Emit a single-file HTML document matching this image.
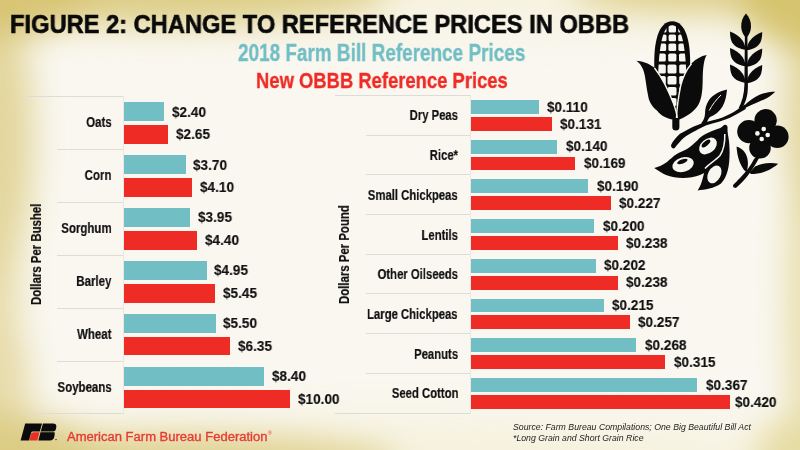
<!DOCTYPE html>
<html><head><meta charset="utf-8"><style>
html,body{margin:0;padding:0;overflow:hidden}
#wrap{position:relative;width:800px;height:450px;overflow:hidden}
body{width:800px;height:450px;position:relative;overflow:hidden;background:#F9F7F1;font-family:"Liberation Sans",sans-serif}
.bgsvg{position:absolute;left:-50px;top:-50px}
.t{position:absolute;white-space:nowrap;transform-origin:0 0;line-height:1;will-change:transform}
.bar{position:absolute}
.hl{position:absolute;height:1px;background:#DEDCD7}
.vl{position:absolute;width:1px;background:#EAE7E2}
svg{position:absolute;left:0;top:0}
</style></head><body><div id="wrap">
<svg class="bgsvg" width="900" height="550" viewBox="-50 -50 900 550">
<defs><filter id="blr" filterUnits="userSpaceOnUse" x="-50" y="-50" width="900" height="550"><feGaussianBlur stdDeviation="16"/></filter>
<filter id="blr2" filterUnits="userSpaceOnUse" x="-50" y="-50" width="900" height="550"><feGaussianBlur stdDeviation="30"/></filter></defs>
<rect x="-50" y="-50" width="900" height="550" fill="#F9F7F0"/>
<g filter="url(#blr2)">
<ellipse cx="400" cy="-20" rx="450" ry="40" fill="#F6F1DA"/>
<ellipse cx="400" cy="470" rx="450" ry="40" fill="#F5F0D8"/>
</g>
<g filter="url(#blr)">
<ellipse cx="-12" cy="290" rx="32" ry="130" fill="#E9DFB0"/>
<ellipse cx="-10" cy="390" rx="40" ry="90" fill="#E7DCAA"/>
<ellipse cx="-12" cy="140" rx="46" ry="150" fill="#E3D79E"/>
<ellipse cx="812" cy="300" rx="26" ry="200" fill="#E8DFAE"/>
<ellipse cx="812" cy="110" rx="28" ry="120" fill="#E2D69C"/>
<ellipse cx="160" cy="-10" rx="230" ry="34" fill="#DDCD86"/>
<ellipse cx="170" cy="462" rx="230" ry="28" fill="#E0D292"/>
<ellipse cx="710" cy="-10" rx="140" ry="24" fill="#DFD08C"/>
<ellipse cx="805" cy="455" rx="50" ry="40" fill="#E6DCA4"/>
<ellipse cx="-10" cy="-10" rx="110" ry="48" fill="#D8C574"/>
<ellipse cx="-10" cy="462" rx="120" ry="48" fill="#DCCC84"/>
<ellipse cx="810" cy="-10" rx="75" ry="60" fill="#D6C46E"/>
</g>
</svg>

<div class="hl" style="left:26px;top:96.00px;width:98.20px"></div>
<div class="hl" style="left:26px;top:413.40px;width:98.20px"></div>
<div class="hl" style="left:57px;top:148.90px;width:67.20px"></div>
<div class="hl" style="left:57px;top:201.80px;width:67.20px"></div>
<div class="hl" style="left:57px;top:254.70px;width:67.20px"></div>
<div class="hl" style="left:57px;top:307.60px;width:67.20px"></div>
<div class="hl" style="left:57px;top:360.50px;width:67.20px"></div>
<div class="vl" style="left:123.20px;top:96.00px;height:317.40px"></div>
<div class="bar" style="left:124.20px;top:102.40px;width:39.91px;height:18.8px;background:#72BEC5"></div>
<div class="bar" style="left:124.20px;top:125.10px;width:44.07px;height:18.8px;background:#EE2C25"></div>
<div class="bar" style="left:124.20px;top:155.30px;width:61.53px;height:18.8px;background:#72BEC5"></div>
<div class="bar" style="left:124.20px;top:178.00px;width:68.18px;height:18.8px;background:#EE2C25"></div>
<div class="bar" style="left:124.20px;top:208.20px;width:65.69px;height:18.8px;background:#72BEC5"></div>
<div class="bar" style="left:124.20px;top:230.90px;width:73.17px;height:18.8px;background:#EE2C25"></div>
<div class="bar" style="left:124.20px;top:261.10px;width:82.32px;height:18.8px;background:#72BEC5"></div>
<div class="bar" style="left:124.20px;top:283.80px;width:90.63px;height:18.8px;background:#EE2C25"></div>
<div class="bar" style="left:124.20px;top:314.00px;width:91.46px;height:18.8px;background:#72BEC5"></div>
<div class="bar" style="left:124.20px;top:336.70px;width:105.60px;height:18.8px;background:#EE2C25"></div>
<div class="bar" style="left:124.20px;top:366.90px;width:139.69px;height:18.8px;background:#72BEC5"></div>
<div class="bar" style="left:124.20px;top:389.60px;width:166.30px;height:18.8px;background:#EE2C25"></div>
<div class="hl" style="left:335px;top:94.90px;width:136.20px"></div>
<div class="hl" style="left:335px;top:412.60px;width:136.20px"></div>
<div class="hl" style="left:366px;top:134.61px;width:105.20px"></div>
<div class="hl" style="left:366px;top:174.33px;width:105.20px"></div>
<div class="hl" style="left:366px;top:214.04px;width:105.20px"></div>
<div class="hl" style="left:366px;top:253.75px;width:105.20px"></div>
<div class="hl" style="left:366px;top:293.46px;width:105.20px"></div>
<div class="hl" style="left:366px;top:333.18px;width:105.20px"></div>
<div class="hl" style="left:366px;top:372.89px;width:105.20px"></div>
<div class="vl" style="left:470.20px;top:94.90px;height:317.70px"></div>
<div class="bar" style="left:471.20px;top:100.00px;width:67.77px;height:13.8px;background:#72BEC5"></div>
<div class="bar" style="left:471.20px;top:116.80px;width:80.71px;height:13.9px;background:#EE2C25"></div>
<div class="bar" style="left:471.20px;top:139.71px;width:86.25px;height:13.8px;background:#72BEC5"></div>
<div class="bar" style="left:471.20px;top:156.51px;width:104.12px;height:13.9px;background:#EE2C25"></div>
<div class="bar" style="left:471.20px;top:179.43px;width:117.06px;height:13.8px;background:#72BEC5"></div>
<div class="bar" style="left:471.20px;top:196.23px;width:139.85px;height:13.9px;background:#EE2C25"></div>
<div class="bar" style="left:471.20px;top:219.14px;width:123.22px;height:13.8px;background:#72BEC5"></div>
<div class="bar" style="left:471.20px;top:235.94px;width:146.63px;height:13.9px;background:#EE2C25"></div>
<div class="bar" style="left:471.20px;top:258.85px;width:124.45px;height:13.8px;background:#72BEC5"></div>
<div class="bar" style="left:471.20px;top:275.65px;width:146.63px;height:13.9px;background:#EE2C25"></div>
<div class="bar" style="left:471.20px;top:298.56px;width:132.46px;height:13.8px;background:#72BEC5"></div>
<div class="bar" style="left:471.20px;top:315.36px;width:158.34px;height:13.9px;background:#EE2C25"></div>
<div class="bar" style="left:471.20px;top:338.28px;width:165.11px;height:13.8px;background:#72BEC5"></div>
<div class="bar" style="left:471.20px;top:355.08px;width:194.07px;height:13.9px;background:#EE2C25"></div>
<div class="bar" style="left:471.20px;top:377.99px;width:226.11px;height:13.8px;background:#72BEC5"></div>
<div class="bar" style="left:471.20px;top:394.79px;width:258.76px;height:13.9px;background:#EE2C25"></div>
<div class="t" style="left:9.64px;top:12.15px;font-size:25px;transform:scaleX(0.947);font-weight:bold;-webkit-text-stroke:0.6px #0a0a0a;color:#0a0a0a;">FIGURE 2: CHANGE TO REFERENCE PRICES IN OBBB</div>
<div class="t" style="left:238.33px;top:40.63px;font-size:23.8px;transform:scaleX(0.7955);font-weight:bold;-webkit-text-stroke:0.35px #72BEC5;color:#72BEC5;">2018 Farm Bill Reference Prices</div>
<div class="t" style="left:255.71px;top:69.51px;font-size:22.6px;transform:scaleX(0.815);font-weight:bold;-webkit-text-stroke:0.35px #EE2C25;color:#EE2C25;">New OBBB Reference Prices</div>
<div class="t" style="left:171.84px;top:103.68px;font-size:15.5px;transform:scaleX(0.876);font-weight:bold;-webkit-text-stroke:0.15px #111;color:#111;">$2.40</div>
<div class="t" style="left:176.00px;top:126.08px;font-size:15.5px;transform:scaleX(0.876);font-weight:bold;-webkit-text-stroke:0.15px #111;color:#111;">$2.65</div>
<div class="t" style="right:688.35px;top:114.37px;font-size:15.2px;transform:scaleX(0.757);transform-origin:100% 0;font-weight:bold;-webkit-text-stroke:0.2px #111;color:#111;">Oats</div>
<div class="t" style="left:193.46px;top:156.58px;font-size:15.5px;transform:scaleX(0.876);font-weight:bold;-webkit-text-stroke:0.15px #111;color:#111;">$3.70</div>
<div class="t" style="left:200.11px;top:178.98px;font-size:15.5px;transform:scaleX(0.876);font-weight:bold;-webkit-text-stroke:0.15px #111;color:#111;">$4.10</div>
<div class="t" style="right:688.35px;top:167.27px;font-size:15.2px;transform:scaleX(0.757);transform-origin:100% 0;font-weight:bold;-webkit-text-stroke:0.2px #111;color:#111;">Corn</div>
<div class="t" style="left:197.62px;top:209.48px;font-size:15.5px;transform:scaleX(0.876);font-weight:bold;-webkit-text-stroke:0.15px #111;color:#111;">$3.95</div>
<div class="t" style="left:205.10px;top:231.88px;font-size:15.5px;transform:scaleX(0.876);font-weight:bold;-webkit-text-stroke:0.15px #111;color:#111;">$4.40</div>
<div class="t" style="right:688.35px;top:220.17px;font-size:15.2px;transform:scaleX(0.757);transform-origin:100% 0;font-weight:bold;-webkit-text-stroke:0.2px #111;color:#111;">Sorghum</div>
<div class="t" style="left:214.25px;top:262.37px;font-size:15.5px;transform:scaleX(0.876);font-weight:bold;-webkit-text-stroke:0.15px #111;color:#111;">$4.95</div>
<div class="t" style="left:222.56px;top:284.77px;font-size:15.5px;transform:scaleX(0.876);font-weight:bold;-webkit-text-stroke:0.15px #111;color:#111;">$5.45</div>
<div class="t" style="right:688.35px;top:273.07px;font-size:15.2px;transform:scaleX(0.757);transform-origin:100% 0;font-weight:bold;-webkit-text-stroke:0.2px #111;color:#111;">Barley</div>
<div class="t" style="left:223.39px;top:315.27px;font-size:15.5px;transform:scaleX(0.876);font-weight:bold;-webkit-text-stroke:0.15px #111;color:#111;">$5.50</div>
<div class="t" style="left:237.53px;top:337.68px;font-size:15.5px;transform:scaleX(0.876);font-weight:bold;-webkit-text-stroke:0.15px #111;color:#111;">$6.35</div>
<div class="t" style="right:688.35px;top:325.97px;font-size:15.2px;transform:scaleX(0.757);transform-origin:100% 0;font-weight:bold;-webkit-text-stroke:0.2px #111;color:#111;">Wheat</div>
<div class="t" style="left:271.62px;top:368.17px;font-size:15.5px;transform:scaleX(0.876);font-weight:bold;-webkit-text-stroke:0.15px #111;color:#111;">$8.40</div>
<div class="t" style="left:298.23px;top:390.57px;font-size:15.5px;transform:scaleX(0.876);font-weight:bold;-webkit-text-stroke:0.15px #111;color:#111;">$10.00</div>
<div class="t" style="right:688.35px;top:378.87px;font-size:15.2px;transform:scaleX(0.757);transform-origin:100% 0;font-weight:bold;-webkit-text-stroke:0.2px #111;color:#111;">Soybeans</div>
<div class="t" style="left:547.30px;top:98.58px;font-size:15.5px;transform:scaleX(0.876);font-weight:bold;-webkit-text-stroke:0.15px #111;color:#111;">$0.110</div>
<div class="t" style="left:560.24px;top:115.53px;font-size:15.5px;transform:scaleX(0.876);font-weight:bold;-webkit-text-stroke:0.15px #111;color:#111;">$0.131</div>
<div class="t" style="right:342.06px;top:107.38px;font-size:15.2px;transform:scaleX(0.745);transform-origin:100% 0;font-weight:bold;-webkit-text-stroke:0.2px #111;color:#111;">Dry Peas</div>
<div class="t" style="left:565.78px;top:138.29px;font-size:15.5px;transform:scaleX(0.876);font-weight:bold;-webkit-text-stroke:0.15px #111;color:#111;">$0.140</div>
<div class="t" style="left:583.65px;top:155.24px;font-size:15.5px;transform:scaleX(0.876);font-weight:bold;-webkit-text-stroke:0.15px #111;color:#111;">$0.169</div>
<div class="t" style="right:342.06px;top:147.09px;font-size:15.2px;transform:scaleX(0.745);transform-origin:100% 0;font-weight:bold;-webkit-text-stroke:0.2px #111;color:#111;">Rice*</div>
<div class="t" style="left:596.59px;top:178.00px;font-size:15.5px;transform:scaleX(0.876);font-weight:bold;-webkit-text-stroke:0.15px #111;color:#111;">$0.190</div>
<div class="t" style="left:619.38px;top:194.95px;font-size:15.5px;transform:scaleX(0.876);font-weight:bold;-webkit-text-stroke:0.15px #111;color:#111;">$0.227</div>
<div class="t" style="right:342.06px;top:186.80px;font-size:15.2px;transform:scaleX(0.745);transform-origin:100% 0;font-weight:bold;-webkit-text-stroke:0.2px #111;color:#111;">Small Chickpeas</div>
<div class="t" style="left:602.75px;top:217.71px;font-size:15.5px;transform:scaleX(0.876);font-weight:bold;-webkit-text-stroke:0.15px #111;color:#111;">$0.200</div>
<div class="t" style="left:626.16px;top:234.66px;font-size:15.5px;transform:scaleX(0.876);font-weight:bold;-webkit-text-stroke:0.15px #111;color:#111;">$0.238</div>
<div class="t" style="right:342.06px;top:226.51px;font-size:15.2px;transform:scaleX(0.745);transform-origin:100% 0;font-weight:bold;-webkit-text-stroke:0.2px #111;color:#111;">Lentils</div>
<div class="t" style="left:603.98px;top:257.43px;font-size:15.5px;transform:scaleX(0.876);font-weight:bold;-webkit-text-stroke:0.15px #111;color:#111;">$0.202</div>
<div class="t" style="left:626.16px;top:274.38px;font-size:15.5px;transform:scaleX(0.876);font-weight:bold;-webkit-text-stroke:0.15px #111;color:#111;">$0.238</div>
<div class="t" style="right:342.06px;top:266.23px;font-size:15.2px;transform:scaleX(0.745);transform-origin:100% 0;font-weight:bold;-webkit-text-stroke:0.2px #111;color:#111;">Other Oilseeds</div>
<div class="t" style="left:611.99px;top:297.14px;font-size:15.5px;transform:scaleX(0.876);font-weight:bold;-webkit-text-stroke:0.15px #111;color:#111;">$0.215</div>
<div class="t" style="left:637.87px;top:314.09px;font-size:15.5px;transform:scaleX(0.876);font-weight:bold;-webkit-text-stroke:0.15px #111;color:#111;">$0.257</div>
<div class="t" style="right:342.06px;top:305.94px;font-size:15.2px;transform:scaleX(0.745);transform-origin:100% 0;font-weight:bold;-webkit-text-stroke:0.2px #111;color:#111;">Large Chickpeas</div>
<div class="t" style="left:644.64px;top:336.85px;font-size:15.5px;transform:scaleX(0.876);font-weight:bold;-webkit-text-stroke:0.15px #111;color:#111;">$0.268</div>
<div class="t" style="left:673.60px;top:353.80px;font-size:15.5px;transform:scaleX(0.876);font-weight:bold;-webkit-text-stroke:0.15px #111;color:#111;">$0.315</div>
<div class="t" style="right:342.06px;top:345.65px;font-size:15.2px;transform:scaleX(0.745);transform-origin:100% 0;font-weight:bold;-webkit-text-stroke:0.2px #111;color:#111;">Peanuts</div>
<div class="t" style="left:705.64px;top:376.56px;font-size:15.5px;transform:scaleX(0.876);font-weight:bold;-webkit-text-stroke:0.15px #111;color:#111;">$0.367</div>
<div class="t" style="left:734.93px;top:393.51px;font-size:15.5px;transform:scaleX(0.876);font-weight:bold;-webkit-text-stroke:0.15px #111;color:#111;">$0.420</div>
<div class="t" style="right:342.06px;top:385.36px;font-size:15.2px;transform:scaleX(0.745);transform-origin:100% 0;font-weight:bold;-webkit-text-stroke:0.2px #111;color:#111;">Seed Cotton</div>
<div class="t" style="left:28.97px;top:305.00px;font-size:14.8px;transform-origin:0 0;transform:rotate(-90deg) scaleX(0.77);font-weight:bold;-webkit-text-stroke:0.2px #111;color:#111">Dollars Per Bushel</div>
<div class="t" style="left:337.07px;top:303.50px;font-size:14.8px;transform-origin:0 0;transform:rotate(-90deg) scaleX(0.77);font-weight:bold;-webkit-text-stroke:0.2px #111;color:#111">Dollars Per Pound</div>
<div class="t" style="left:67.20px;top:430.60px;font-size:12px;transform:scaleX(1.085);font-weight:normal;-webkit-text-stroke:0.35px #E63C35;color:#E63C35;">American Farm Bureau Federation<span style='font-size:5px;vertical-align:6px;margin-left:0.3px;-webkit-text-stroke:0;font-weight:normal'>®</span></div>
<div class="t" style="left:512.54px;top:423.01px;font-size:8.6px;transform:scaleX(1.016);font-style:italic;color:#1c1c1c;">Source: Farm Bureau Compilations; One Big Beautiful Bill Act</div>
<div class="t" style="left:513.28px;top:433.61px;font-size:8.6px;transform:scaleX(1.016);font-style:italic;color:#1c1c1c;">*Long Grain and Short Grain Rice</div>
<svg width="800" height="450" viewBox="0 0 800 450">
<defs>
<clipPath id="cobin"><path d="M658 120 C656.5 50 661.5 25.2 672.2 25.2 C683 25.2 688 50 686.5 120 Z"/></clipPath>
</defs>
<g fill="#0b0b0b">
<!-- corn cob -->
<path d="M654.4 70 C653.2 42 658.5 21.3 672.2 21.3 C685.9 21.3 691.2 42 690 70 L676.7 118 Z"/>
</g>
<g fill="#F8F6F0" clip-path="url(#cobin)">
<rect x="655" y="22" width="11.5" height="10.5" rx="1.6"/>
<rect x="668.6" y="22" width="7.4" height="10.5" rx="1.6"/>
<rect x="678.2" y="22" width="11.5" height="10.5" rx="1.6"/>
<rect x="655" y="34.5" width="11.5" height="6.8" rx="1.6"/>
<rect x="668.6" y="34.5" width="7.4" height="6.8" rx="1.6"/>
<rect x="678.2" y="34.5" width="11.5" height="6.8" rx="1.6"/>
<rect x="655" y="43.5" width="11.2" height="7.6" rx="1.6"/>
<rect x="668.4" y="43.5" width="7.8" height="7.6" rx="1.6"/>
<rect x="678.4" y="43.5" width="11.5" height="7.6" rx="1.6"/>
<rect x="655" y="53.6" width="10.8" height="8" rx="1.6"/>
<rect x="668.2" y="53.6" width="8.2" height="8" rx="1.6"/>
<rect x="679" y="53.6" width="11" height="8" rx="1.6"/>
<rect x="655" y="64.5" width="10.8" height="9" rx="1.6"/>
<rect x="667.5" y="64.5" width="9" height="9" rx="1.6"/>
<rect x="679.2" y="64.5" width="11" height="9" rx="1.6"/>
<rect x="655" y="76" width="10.8" height="8.5" rx="1.6"/>
<rect x="667.5" y="76" width="9" height="8.5" rx="1.6"/>
<rect x="679.2" y="76" width="11" height="8.5" rx="1.6"/>
<rect x="655" y="87" width="10.8" height="8.5" rx="1.6"/>
<rect x="667.5" y="87" width="9" height="8.5" rx="1.6"/>
<rect x="679.2" y="87" width="11" height="8.5" rx="1.6"/>
<rect x="667.5" y="98" width="9" height="8" rx="1.6"/>
</g>
<g fill="#0b0b0b">
<!-- left corn leaf -->
<path d="M636.4 60.7 C641 61 648 62.5 654.2 67.6 C660 75 668 90 673 103 C675 109 676.5 114 677 118 L672 119.5 C664 117.5 659.5 114 657.5 111 C651.5 106.5 648.8 101 648 95 C646 85 645.5 76 643.3 70 C641.5 65.5 639.5 62.8 636.4 60.7 Z"/>
<!-- right corn leaf -->
<path d="M706.7 55 C703.5 60 702.8 70 702.7 80 C702.5 90 702 98 698.5 104.5 C695 110.5 689 115.5 679.4 119.5 L676 118 C676.5 110 677.5 100 680.6 85.6 C683 77 686 70 691.7 63.3 C696 59 701 56 706.7 55 Z"/>
<!-- corn stem -->
<path d="M672.3 114 L679.4 114 L679.4 127 Q679.4 130.6 675.85 130.6 Q672.3 130.6 672.3 127 Z"/>
</g>
<g fill="none" stroke="#F8F6F0" stroke-width="1.4">
<path d="M654.5 68 C660.5 75.5 668.5 90.5 673.5 103.5 C675.5 109 676.8 114 677.2 118"/>
<path d="M691.5 63.8 C686 70 683 77 680.6 86 C677.8 100 676.8 110 676.5 118"/>
</g>
<g fill="#0b0b0b">
<!-- wheat top grain -->
<path d="M746 13.5 C749.5 17 751.2 22 751 27 C750.8 32 748.5 35.5 746.2 38 C743.8 35.5 741.4 32 741.2 27 C741 22 742.5 17 746 13.5 Z"/>
<!-- wheat stem -->
<path d="M744.95 30 L747.35 30 L747.9 85 C748 95 746 101.5 742.5 107.5 L738.5 108.5 C742 102 744.2 94 744.4 85 Z"/>
<!-- left grains -->
<path d="M730 31.5 C734.5 33.0 739.5 36.5 742.5 40.5 C744 43.0 744.8 45.0 745.5 48.0 L745.8 49.7 C740 49.3 734.5 46.7 732 42.3 C730.5 39.3 730 35.5 730 31.5 Z"/>
<path d="M730 48.0 C734.5 49.5 739.5 53.0 742.5 57.0 C744 59.5 744.8 61.5 745.5 64.5 L745.8 66.2 C740 65.8 734.5 63.2 732 58.8 C730.5 55.8 730 52.0 730 48.0 Z"/>
<path d="M730 64.5 C734.5 66.0 739.5 69.5 742.5 73.5 C744 76.0 744.8 78.0 745.5 81.0 L745.8 82.7 C740 82.3 734.5 79.7 732 75.3 C730.5 72.3 730 68.5 730 64.5 Z"/>
<!-- right grains -->
<path d="M762.2 31.9 C757.7 33.4 752.7 36.9 749.7 40.9 C748.2 43.4 747.4 45.4 746.7 48.4 L746.4 50.099999999999994 C752.2 49.7 757.7 47.099999999999994 760.2 42.7 C761.7 39.699999999999996 762.2 35.9 762.2 31.9 Z"/>
<path d="M762.2 48.4 C757.7 49.9 752.7 53.4 749.7 57.4 C748.2 59.9 747.4 61.9 746.7 64.9 L746.4 66.6 C752.2 66.2 757.7 63.599999999999994 760.2 59.2 C761.7 56.199999999999996 762.2 52.4 762.2 48.4 Z"/>
<path d="M762.2 64.9 C757.7 66.4 752.7 69.9 749.7 73.9 C748.2 76.4 747.4 78.4 746.7 81.4 L746.4 83.10000000000001 C752.2 82.7 757.7 80.10000000000001 760.2 75.7 C761.7 72.7 762.2 68.9 762.2 64.9 Z"/>
<!-- long branch leaf (right) -->
<path d="M775.3 91.8 C770 91.8 764 92.8 759 95 C754 97.3 749 100.8 743.5 106.3 L744 108.5 C748.5 106.2 753 104 757.7 102.3 C763 100.2 768 98 771.5 95 C773 93.8 774.3 92.8 775.3 91.8 Z"/>
<!-- branch -->
<path d="M745 104.5 C740 108 735 111.5 730 113.9 C725 116.5 720 118.5 715 119.8 C711 121 707 121.8 703.3 122.9 C699 124.2 695 125.8 691.7 127.5 C687 130 683 132 680 133.8 C676.5 137 673 141 671.6 144 C670 146.5 672.5 149.5 674.7 148 C677.5 144.5 680.5 140.5 683.9 137.7 C687.5 135 691.5 132.5 695.6 130.7 C699 129 702.5 127 705.7 125.6 C710 124 714.5 122.8 718.9 121.7 C723 120.5 726.5 119.3 730 117.8 C735.5 115 740.5 112 745.8 109 Z"/>
<!-- small leaf -->
<path d="M727 89.5 C720 91 713 94.5 709 100 C706 104.5 705 109 705 114 C704.8 117.5 703.5 120.5 701 123.5 L706.5 124.5 C707 121.5 708 119 710 117 C715 115 719.5 111.5 722.5 106.5 C725.5 101.5 726.5 95 727 89.5 Z"/>
</g>
<path d="M721 95 C716 100 712 105 709.3 110.5" fill="none" stroke="#F8F6F0" stroke-width="1"/>
<g fill="#0b0b0b">
<!-- pod 1 -->
<path d="M654.2 168 C658.5 167 663 165 667 162 C670.5 159 673 156.5 676 154.5 C680 152 684 150.5 687 149 C691 146.5 694.5 143 697.3 140.4 C700 137.5 703 135.5 706 133.8 C710 131.8 714 130.2 718 128.8 C720.5 128.5 722 127 723.5 125.5 C725.5 123.8 728.2 125.5 727.5 129 C727.8 134 727 142 724 150 C719 162 710 171 700 175 C690 179 676 179 666 175 C661 172.5 657 170 654.2 168 Z"/>
<!-- pod 2 -->
<path d="M697.6 190.4 C701 186 703 178 704.5 171 C705 167.5 706 165.5 708 164 C714 160.5 720 155 723 148 C725 143 725 135 724.8 127 C728 130 729.6 142 729.6 152 C729.6 166 727.5 177 721 183.5 C714 188.5 705 189.5 697.6 190.4 Z"/>
<!-- flower stem -->
<path d="M757 156 L754 159 C751 165 746 172 740 178 C737.5 180.5 735 183 733.5 184.5 C732 186.5 734.5 189 736.5 187.5 C740 184.5 744 180.5 747.5 176 C752 170 756 164 759 158 Z"/>
<!-- flower left leaf -->
<path d="M736.6 146.5 C737 155 739 163 744 170 L746.5 172 C748.5 166 748.5 159 745.5 153.5 C743 149.5 740 147.5 736.6 146.5 Z"/>
<!-- flower right leaf -->
<path d="M778.2 163.8 C771 162 762 163 755 166.5 L749.5 172.5 L751 174 C758 174 766 172 771.5 168.5 C774 167 776.5 165.5 778.2 163.8 Z"/>
<!-- petals -->
<circle cx="765.6" cy="120.3" r="11.2"/>
<circle cx="748.8" cy="131.6" r="11.6"/>
<circle cx="777.3" cy="136.8" r="11.3"/>
<circle cx="760" cy="147.8" r="10.8"/>
<circle cx="762.3" cy="134.3" r="9"/>
</g>
<g fill="#F8F6F0">
<ellipse cx="683.1" cy="164.7" rx="11" ry="7.2" transform="rotate(-17 683.1 164.7)"/>
<ellipse cx="708" cy="146" rx="10" ry="7" transform="rotate(-40 708 146)"/>
<ellipse cx="714.4" cy="174.4" rx="9.5" ry="6.3" transform="rotate(-62 714.4 174.4)"/>
<circle cx="763.7" cy="129" r="2.3"/>
<circle cx="757.4" cy="133.4" r="2.3"/>
<circle cx="767.7" cy="135" r="2.3"/>
<circle cx="761.7" cy="139" r="2.3"/>
</g>
<path d="M705 168.5 C708 164.8 715 160.8 720 155.5 C724 149.5 725 142 724.8 134" fill="none" stroke="#F8F6F0" stroke-width="1.5"/>
<g fill="#0b0b0b">
<ellipse cx="682.4" cy="161.5" rx="5.5" ry="2" transform="rotate(-20 682.4 161.5)"/>
<ellipse cx="706" cy="143.5" rx="5.3" ry="2.3" transform="rotate(-40 706 143.5)"/>
</g>
<!-- FB logo -->
<g fill="#0b0b0b">
<path d="M25.2 423.6 L42 423.6 L39.8 431.5 L32.8 431.5 Q31.6 431.5 31.2 432.8 L29 440.4 L20.6 440.4 Z"/>
<path d="M42.9 423.6 L52.8 423.6 Q57.2 423.6 56.2 427.8 L55.8 429.4 Q55.2 431.2 53.4 431.6 Q55.2 432.2 54.7 434.8 L54.1 437.6 Q53.3 440.4 50.2 440.4 L38.3 440.4 Z"/>
<circle cx="56" cy="439.6" r="0.7"/>
</g>
<path d="M33.6 432.2 L39.6 432.2 L37.3 440.4 L29.3 440.4 L31.2 433.8 Q31.7 432.2 33.6 432.2 Z" fill="#E8302A"/>
<path d="M41 431.8 L54 431.8" stroke="#E2D498" stroke-width="0.7"/>
</svg>

</div></body></html>
